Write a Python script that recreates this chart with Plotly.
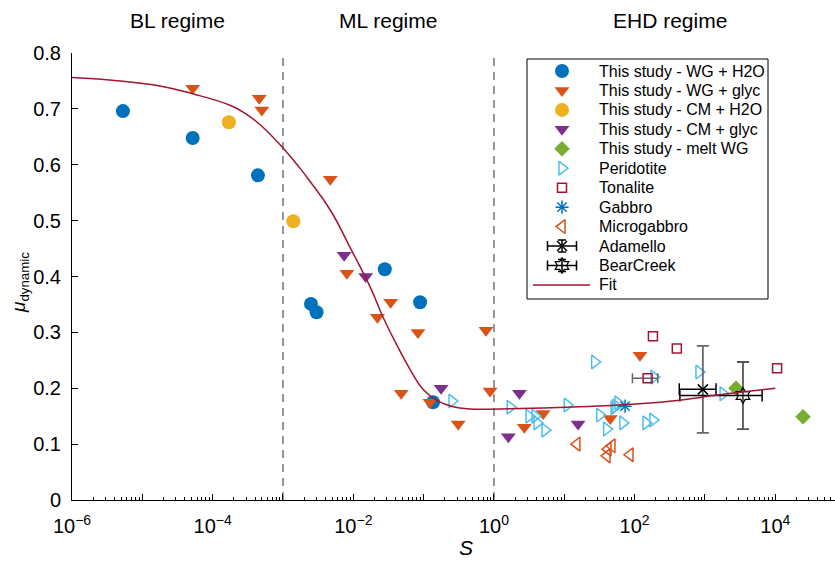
import plotly.graph_objects as go

# ---------------- data ----------------
wg_h2o_S = [5.3e-6, 5.2e-5, 4.4e-4, 2.5e-3, 3.0e-3, 2.8e-2, 8.9e-2, 0.136]
wg_h2o_mu = [0.696, 0.648, 0.581, 0.351, 0.336, 0.413, 0.354, 0.175]

wg_glyc_S = [5.2e-5, 4.6e-4, 5.0e-4, 4.7e-3, 8.1e-3, 3.4e-2, 2.2e-2, 8.3e-2, 0.77,
             4.8e-2, 0.123, 0.31, 0.88, 5.0, 2.7, 119, 45]
wg_glyc_mu = [0.737, 0.719, 0.698, 0.574, 0.406, 0.354, 0.327, 0.300, 0.304,
              0.191, 0.175, 0.136, 0.195, 0.155, 0.130, 0.259, 0.146]

cm_h2o_S = [1.7e-4, 1.4e-3]
cm_h2o_mu = [0.676, 0.499]

cm_glyc_S = [7.4e-3, 1.5e-2, 0.177, 2.3, 1.6, 15.7]
cm_glyc_mu = [0.438, 0.400, 0.200, 0.191, 0.113, 0.136]

melt_S = [2760, 24800]
melt_mu = [0.200, 0.149]

perid_S = [1.7, 3.15, 3.83, 4.09, 5.31, 27, 11, 32, 40, 68, 54, 58, 51, 145, 182, 188,
           0.253, 822, 1810]
perid_mu = [0.166, 0.150, 0.150, 0.138, 0.125, 0.247, 0.170, 0.152, 0.127, 0.138,
            0.168, 0.174, 0.165, 0.138, 0.143, 0.220, 0.177, 0.229, 0.190]

ton_S = [182, 398, 10600]
ton_mu = [0.293, 0.271, 0.236]
ton_err_S = [153]
ton_err_mu = [0.218]
ton_err_dx = [60]

gab_S = [73]
gab_mu = [0.168]

micro_S = [15.1, 41.8, 40.5, 47.6, 85.9]
micro_mu = [0.100, 0.091, 0.079, 0.097, 0.081]

adam_S = [933]
adam_mu = [0.198]
adam_dS = [502]
adam_dmu = [0.078]

bear_S = [3470]
bear_mu = [0.187]
bear_dS = [3030]
bear_dmu = [0.060]

fit_S = [1.0e-6, 4.8e-6, 1.78e-5, 5.2e-5, 1.8e-4, 2.9e-4, 4.7e-4, 1.0e-3, 1.74e-3, 2.4e-3,
         4.7e-3, 8.9e-3, 1.74e-2, 2.63e-2, 4.17e-2, 6.46e-2, 9.77e-2, 0.155, 0.263, 0.457,
         1.23, 16.6, 230, 2060, 1.0e4]
fit_mu = [0.756, 0.750, 0.741, 0.727, 0.706, 0.692, 0.672, 0.630, 0.594, 0.571,
          0.519, 0.453, 0.381, 0.328, 0.277, 0.233, 0.198, 0.178, 0.167, 0.163,
          0.163, 0.167, 0.175, 0.190, 0.200]

regime_bounds = [1e-3, 1.0]
regime_labels = ["BL regime", "ML regime", "EHD regime"]
regime_centers_log = [-4.5, -1.5, 2.5]

x_tick_exps = list(range(-6, 5))
y_ticks = [0, 0.1, 0.2, 0.3, 0.4, 0.5, 0.6, 0.7, 0.8]

legend_labels = ["This study - WG + H2O", "This study - WG + glyc", "This study - CM + H2O",
                 "This study - CM + glyc", "This study - melt WG", "Peridotite", "Tonalite",
                 "Gabbro", "Microgabbro", "Adamello", "BearCreek", "Fit"]

# ---------------- styles ----------------
BLUE = "#0072BD"; ORANGE = "#D95319"; YELLOW = "#EDB120"; PURPLE = "#7E2F8E"
GREEN = "#77AC30"; CYAN = "#4DBEEE"; CRIMSON = "#A2142F"
FONT = "Liberation Sans, Arial, Helvetica, sans-serif"

styles = [
    dict(symbol="circle", size=14, color=BLUE),
    dict(symbol="triangle-down", size=13, color=ORANGE),
    dict(symbol="circle", size=14, color=YELLOW),
    dict(symbol="triangle-down", size=13, color=PURPLE),
    dict(symbol="diamond", size=12, color=GREEN),
    dict(symbol="triangle-right-open", size=12, color=CYAN, line=dict(width=1.5, color=CYAN)),
    dict(symbol="square-open", size=9, color=CRIMSON, line=dict(width=1.5, color=CRIMSON)),
    dict(symbol="asterisk-open", size=11, color=BLUE, line=dict(width=1.5, color=BLUE)),
    dict(symbol="triangle-left-open", size=12, color=ORANGE, line=dict(width=1.5, color=ORANGE)),
    dict(symbol="x-thin-open", size=10, color="black", line=dict(width=1.5, color="black")),
    dict(symbol="hexagram-open", size=12, color="black", line=dict(width=1.2, color="black")),
]

W, H = 835, 564
ML, MR, MT, MB = 72, 0, 53, 64
PW = W - ML - MR
PH = H - MT - MB


def fx(xp):
    return (xp - ML) / PW


def fy(yp):
    return (H - MB - yp) / PH


fig = go.Figure()

# regime boundaries
for b in regime_bounds:
    fig.add_trace(go.Scatter(x=[b, b], y=[0, 0.8], mode="lines",
                             line=dict(color="#555555", width=1.2, dash="8px,6px"),
                             showlegend=False, hoverinfo="skip"))

series = [
    (wg_h2o_S, wg_h2o_mu), (wg_glyc_S, wg_glyc_mu), (cm_h2o_S, cm_h2o_mu),
    (cm_glyc_S, cm_glyc_mu), (melt_S, melt_mu), (perid_S, perid_mu), (ton_S, ton_mu),
    (gab_S, gab_mu), (micro_S, micro_mu),
]
for (xs, ys), st in zip(series, styles[:9]):
    fig.add_trace(go.Scatter(x=xs, y=ys, mode="markers", marker=st, showlegend=False))

# tonalite point with grey horizontal error bar
fig.add_trace(go.Scatter(x=ton_err_S, y=ton_err_mu, mode="markers", marker=styles[6],
                         error_x=dict(type="data", array=ton_err_dx, color="#666666",
                                      thickness=1.5, width=5),
                         showlegend=False))

# Adamello
fig.add_trace(go.Scatter(x=adam_S, y=adam_mu, mode="markers", marker=styles[9],
                         error_x=dict(type="data", array=adam_dS, color="black", thickness=1.5, width=6),
                         error_y=dict(type="data", array=adam_dmu, color="#666666", thickness=1.8, width=6),
                         showlegend=False))
# BearCreek
fig.add_trace(go.Scatter(x=bear_S, y=bear_mu, mode="markers", marker=styles[10],
                         error_x=dict(type="data", array=bear_dS, color="black", thickness=1.5, width=6),
                         error_y=dict(type="data", array=bear_dmu, color="#555555", thickness=1.8, width=6),
                         showlegend=False))

# Fit
fig.add_trace(go.Scatter(x=fit_S, y=fit_mu, mode="lines",
                         line=dict(color=CRIMSON, width=1.5, shape="spline", smoothing=1.3),
                         showlegend=False))

# ---------------- custom legend (overlay axes in paper fractions) ----------------
LX0, LX1, LY0, LY1 = 527, 768, 59, 299
row0, drow = 71, 19.45
mx, tx = 562, 597
for i, lab in enumerate(legend_labels):
    yy = fy(row0 + i * drow)
    if i < 11:
        kw = {}
        if i in (9, 10):
            kw["error_x"] = dict(type="data", array=[14.5 / PW], color="black", thickness=1.5, width=5)
            kw["error_y"] = dict(type="data", array=[6 / PH], color="black", thickness=1.5, width=4)
        fig.add_trace(go.Scatter(x=[fx(mx)], y=[yy], mode="markers", marker=styles[i],
                                 xaxis="x2", yaxis="y2", showlegend=False, **kw))
    else:
        fig.add_trace(go.Scatter(x=[fx(533), fx(590)], y=[yy, yy], mode="lines",
                                 line=dict(color=CRIMSON, width=1.5),
                                 xaxis="x2", yaxis="y2", showlegend=False))
    fig.add_annotation(x=fx(tx), y=yy, xref="paper", yref="paper", text=lab,
                       showarrow=False, xanchor="left", yanchor="middle",
                       font=dict(size=16, color="black", family=FONT))

fig.add_shape(type="rect", xref="paper", yref="paper", x0=fx(LX0), x1=fx(LX1),
              y0=fy(LY1), y1=fy(LY0), line=dict(color="black", width=1),
              fillcolor="white", layer="below")

# regime labels
for lab, c in zip(regime_labels, regime_centers_log):
    fig.add_annotation(x=c, y=fy(20), xref="x", yref="paper", text=lab, showarrow=False,
                       xanchor="center", yanchor="middle",
                       font=dict(size=21, color="black", family=FONT))

# axis titles
fig.add_annotation(x=fx(466), y=fy(547), xref="paper", yref="paper", text="<i>S</i>",
                   showarrow=False, xanchor="center", yanchor="middle",
                   font=dict(size=21, color="black", family=FONT))
fig.add_annotation(x=fx(20), y=fy(282), xref="paper", yref="paper",
                   text="<i>μ</i><sub>dynamic</sub>", textangle=-90, showarrow=False,
                   xanchor="center", yanchor="middle",
                   font=dict(size=19, color="black", family=FONT))

minor_vals = [k * 10.0 ** e for e in range(-6, 5) for k in range(2, 10)]

fig.update_layout(
    width=W, height=H,
    margin=dict(l=ML, r=MR, t=MT, b=MB, pad=0),
    paper_bgcolor="white", plot_bgcolor="white",
    font=dict(family=FONT, color="black"),
    showlegend=False,
    xaxis=dict(type="log", range=[-6, -6 + PW / 70.33],
               tickmode="array", tickvals=[10.0 ** e for e in x_tick_exps],
               ticktext=[("10<sup>%s</sup>" % (str(e).replace("-", "−")) if e % 2 == 0 else "")
                         for e in x_tick_exps],
               ticks="inside", ticklen=6, tickwidth=1, tickcolor="black",
               minor=dict(tickmode="array", tickvals=minor_vals, ticks="inside", ticklen=3,
                          tickwidth=1, tickcolor="black", showgrid=False),
               ticklabelstandoff=8,
               showline=True, linecolor="black", linewidth=1, showgrid=False, zeroline=False,
               tickfont=dict(size=20, family=FONT, color="black")),
    yaxis=dict(range=[0, 0.8], tickmode="array", tickvals=y_ticks,
               ticktext=[("%g" % v) for v in y_ticks],
               ticks="inside", ticklen=6, tickwidth=1, tickcolor="black",
               ticklabelstandoff=6,
               showline=True, linecolor="black", linewidth=1, showgrid=False, zeroline=False,
               tickfont=dict(size=20, family=FONT, color="black")),
    xaxis2=dict(overlaying="x", anchor="y2", range=[0, 1], visible=False, fixedrange=True),
    yaxis2=dict(overlaying="y", anchor="x2", range=[0, 1], visible=False, fixedrange=True),
)

fig.write_html("out.html")
